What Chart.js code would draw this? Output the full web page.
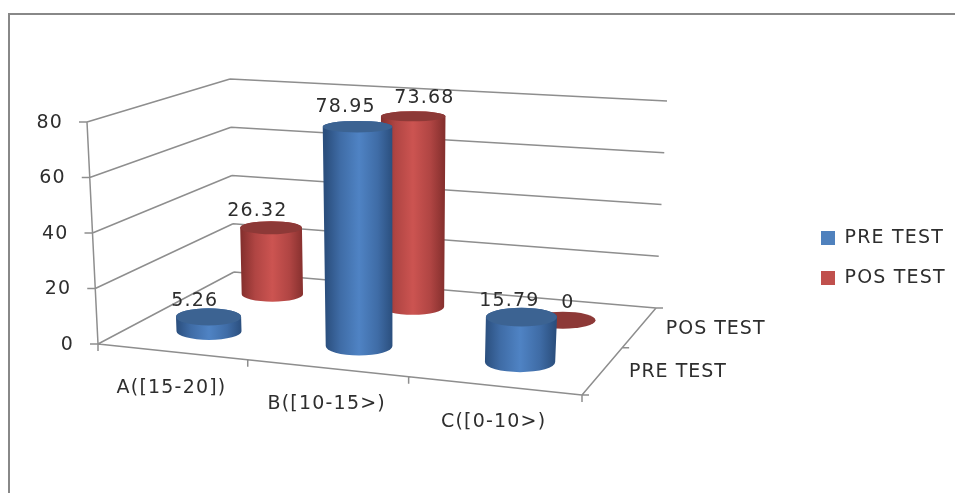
<!DOCTYPE html>
<html>
<head>
<meta charset="utf-8">
<style>
html,body{margin:0;padding:0;background:#fff;overflow:hidden}
#wrap{position:relative;width:955px;height:493px}
#frame{position:absolute;left:8px;top:13px;right:-5px;bottom:-5px;border:2px solid #888;box-sizing:border-box}
canvas{position:absolute;left:0;top:0;filter:blur(0.35px)}
</style>
<script src="https://cdn.jsdelivr.net/npm/chart.js@4/dist/chart.umd.min.js"></script>
</head>
<body>
<div id="wrap"><canvas id="c" width="955" height="493"></canvas><div id="frame"></div></div>
<script>
const categories = ['A([15-20])', 'B([10-15>)', 'C([0-10>)'];
const preTest = [5.26, 78.95, 15.79];
const posTest = [26.32, 73.68, 0];
const yTicks = [0, 20, 40, 60, 80];
const seriesDepth = [0.25, 0.75];

// camera: where the floor (value 0) and ceiling (value 80) of the 3D box land on the page
const floorQuad = [[98,344],[582,395],[656,308],[234,272]];
const ceilQuad  = [[87,122],[595,155],[667,101],[230,79]];
const DEPTH_RADIUS = 0.11;
const CENTER_SHIFT = 0.004;
const LABEL_NUDGE = [[[-12,-16],[-10,-20],[-10,-16]], [[-12,-17],[13,-18],[7,-17]]];
const GRID = '#8e8e8e', INK = '#2e2e2e';
const FONT = {family:'"DejaVu Sans"', size:19};
const PALETTE = [
  {edge:'#2b4f7e', shade:'#3f6ca6', mid:'#4f83c4', top:'#3c6392', solid:'#4f81bd'},
  {edge:'#86302e', shade:'#b04543', mid:'#cc5451', top:'#8d3937', solid:'#c0504d'}
];

function quadMap(q){
  const [[x0,y0],[x1,y1],[x2,y2],[x3,y3]] = q;
  const dx1=x1-x2, dx2=x3-x2, sx=x0-x1+x2-x3, dy1=y1-y2, dy2=y3-y2, sy=y0-y1+y2-y3;
  const det=dx1*dy2-dx2*dy1, g=(sx*dy2-dx2*sy)/det, h=(dx1*sy-sx*dy1)/det;
  const a=x1-x0+g*x1, b=x3-x0+h*x3, d=y1-y0+g*y1, e=y3-y0+h*y3;
  return (u,v)=>{const w=g*u+h*v+1; return [(a*u+b*v+x0)/w,(d*u+e*v+y0)/w];};
}
const floorMap = quadMap(floorQuad), ceilMap = quadMap(ceilQuad);
function project(u,v,t){
  const f=floorMap(u,v), c=ceilMap(u,v);
  return [f[0]+(c[0]-f[0])*t, f[1]+(c[1]-f[1])*t];
}
function seg(ctx,a,b){ctx.moveTo(a[0],a[1]);ctx.lineTo(b[0],b[1]);}

function cylinder(ctx,u0,du,v,t,col){
  const u=u0+CENTER_SHIFT;
  const disc=(tt)=>{
    const p=project(u,v,tt);
    const rx=Math.abs(project(u+du,v,tt)[0]-project(u-du,v,tt)[0])/2+3*(1-u)*(1-u);
    const ry=Math.abs(project(u,v-DEPTH_RADIUS,tt)[1]-project(u,v+DEPTH_RADIUS,tt)[1])/2;
    return {x:p[0],y:p[1],rx,ry};
  };
  const b=disc(0), a=disc(t);
  if(t>0){
    const gr=ctx.createLinearGradient(b.x-b.rx,0,b.x+b.rx,0);
    gr.addColorStop(0,col.edge);gr.addColorStop(0.22,col.shade);gr.addColorStop(0.5,col.mid);
    gr.addColorStop(0.78,col.shade);gr.addColorStop(1,col.edge);
    ctx.fillStyle=gr;
    ctx.beginPath();
    ctx.ellipse(b.x,b.y,b.rx,b.ry,0,Math.PI,0,true);
    ctx.lineTo(a.x+a.rx,a.y);
    ctx.ellipse(a.x,a.y,a.rx,a.ry,0,0,Math.PI,true);
    ctx.closePath();ctx.fill();
  }
  ctx.fillStyle=col.top;
  ctx.beginPath();ctx.ellipse(a.x,a.y,a.rx,a.ry,0,0,Math.PI*2);ctx.fill();
  return a;
}

const box3d = {
  id:'box3d',
  beforeDraw(chart){
    chart.ctx.letterSpacing='1.2px';
    const {x,y}=chart.scales, area=chart.chartArea;
    const xi=x.getLabelItems(), yi=y.getLabelItems();
    xi.forEach((it,i)=>{
      const u=(x.getPixelForTick(i)-area.left)/area.width, p=project(u,0,0);
      it.options.translation=[p[0],p[1]+36];
      it.options.textAlign='center';it.options.textBaseline='middle';it.textOffset=0;
    });
    yi.forEach((it,i)=>{
      const t=y.ticks[i].value/y.max, p=project(0,0,t);
      it.options.translation=[p[0]-24,p[1]+1];
      it.options.textAlign='right';it.options.textBaseline='middle';it.textOffset=0;
    });
    const lg=chart.legend;
    if(!lg._nudged){
      lg._nudged=true;
      const w=lg.right-lg.left;
      lg.left=800;lg.right=800+w;
      lg.top+=25;lg.bottom+=25;
      lg.adjustHitBoxes();
    }
  },
  beforeDatasetsDraw(chart){
    const ctx=chart.ctx,{y}=chart.scales;
    ctx.save();
    ctx.strokeStyle=GRID;ctx.lineWidth=1.5;ctx.beginPath();
    y.ticks.forEach(tk=>{
      const t=tk.value/y.max, a=project(0,0,t), b=project(0,1,t), c=project(1,1,t);
      seg(ctx,a,b);seg(ctx,b,c);
      seg(ctx,a,[a[0]-8,a[1]]);
    });
    seg(ctx,project(0,0,0),project(0,0,1));
    seg(ctx,project(0,0,0),project(1,0,0));
    seg(ctx,project(1,0,0),project(1,1,0));
    categories.forEach((_,i)=>{
      const p=project(i/categories.length,0,0);seg(ctx,p,[p[0],p[1]+7]);
    });
    const e=project(1,0,0);seg(ctx,e,[e[0],e[1]+7]);seg(ctx,e,[e[0]+7,e[1]]);
    [0.5,1].forEach(v=>{const p=project(1,v,0);seg(ctx,p,[p[0]+7,p[1]]);});
    ctx.stroke();
    ctx.fillStyle=INK;ctx.font=FONT.size+'px '+FONT.family;ctx.letterSpacing='1px';
    ctx.textAlign='left';ctx.textBaseline='middle';
    chart.data.datasets.forEach((ds,i)=>{
      const p=project(1,seriesDepth[i],0);
      ctx.fillText(ds.label,p[0]+26,p[1]+2);
    });
    ctx.restore();
  },
  beforeDatasetDraw(chart,args){
    const ctx=chart.ctx, area=chart.chartArea, {y}=chart.scales, i=args.index;
    const meta=chart.getDatasetMeta(i);
    ctx.save();
    meta.data.forEach((bar)=>{
      const u=(bar.x-area.left)/area.width, du=bar.width/2/area.width;
      cylinder(ctx,u,du,seriesDepth[i],y.getValueForPixel(bar.y)/y.max,PALETTE[i]);
    });
    ctx.restore();
    return false;
  },
  afterDatasetsDraw(chart){
    const ctx=chart.ctx, area=chart.chartArea, {y}=chart.scales;
    ctx.save();
    ctx.fillStyle=INK;ctx.font=FONT.size+'px '+FONT.family;
    ctx.textAlign='center';ctx.textBaseline='middle';
    chart.data.datasets.forEach((ds,i)=>{
      chart.getDatasetMeta(i).data.forEach((bar,j)=>{
        const u=(bar.x-area.left)/area.width;
        const p=project(u,seriesDepth[i],ds.data[j]/y.max), n=LABEL_NUDGE[i][j];
        ctx.fillText(String(ds.data[j]),p[0]+n[0],p[1]+n[1]);
      });
    });
    ctx.restore();
  }
};

new Chart(document.getElementById('c'),{
  type:'bar',
  data:{labels:categories,datasets:[
    {label:'PRE TEST',data:preTest,backgroundColor:PALETTE[0].solid,barPercentage:0.42,categoryPercentage:1,grouped:false},
    {label:'POS TEST',data:posTest,backgroundColor:PALETTE[1].solid,barPercentage:0.42,categoryPercentage:1,grouped:false}
  ]},
  options:{
    responsive:false,animation:false,events:[],
    layout:{padding:{top:122,bottom:149,left:10,right:13}},
    scales:{
      x:{grid:{display:false},border:{display:false},
         ticks:{font:FONT,color:INK,maxRotation:0,autoSkip:false,mirror:true},
         afterFit(s){s.height=0;}},
      y:{min:0,max:80,grid:{display:false},border:{display:false},
         ticks:{font:FONT,color:INK,stepSize:20,mirror:true},
         afterBuildTicks(s){s.ticks=yTicks.map(value=>({value}));}}
    },
    plugins:{
      legend:{position:'right',labels:{font:FONT,color:INK,boxWidth:14,boxHeight:14,padding:21}},
      tooltip:{enabled:false}
    }
  },
  plugins:[box3d]
});
</script>
</body>
</html>
